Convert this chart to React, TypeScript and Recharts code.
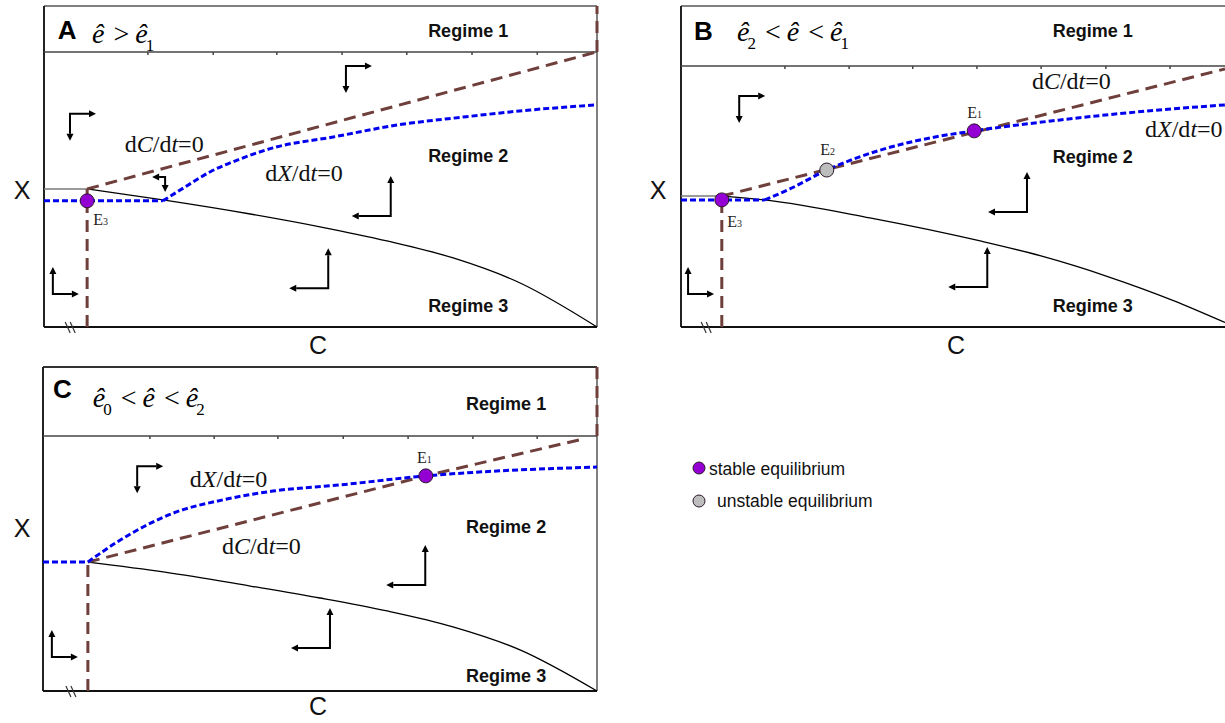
import { ComposedChart, Line, Scatter, XAxis, YAxis, ReferenceLine } from 'recharts'

type Pt = { c: number; x: number }
type Arrow = { c: number; x: number; dir: string }
type Note = { c: number; x: number; text: string }
type MathNote = { c: number; x: number; subs: string[]; ops: string[] }

const SANS = '"Liberation Sans", Arial, sans-serif'
const SERIF = '"Liberation Serif", "Times New Roman", serif'
const BROWN = '#6f3f3c'
const BLUE = '#0000ee'
const PURPLE = '#9400d3'

// ---- panel A: e > e1 ----
const regimeA = 85.7
const ticksA = [18.8, 30.6, 42.1, 53.9, 65.6, 77.4, 89.2]
const blackA: Pt[] = [
  { c: 7.8, x: 43.0 }, { c: 21.5, x: 39.6 }, { c: 37.3, x: 35.2 }, { c: 49.9, x: 31.2 },
  { c: 62.0, x: 26.8 }, { c: 74.0, x: 21.5 }, { c: 86.1, x: 13.7 }, { c: 100, x: 0 },
]
const plateauA: Pt[] = [{ c: 0, x: 43.0 }, { c: 7.8, x: 43.0 }]
const blueFlatA: Pt[] = [{ c: 0, x: 39.3 }, { c: 21.5, x: 39.3 }]
const blueRiseA: Pt[] = [
  { c: 21.5, x: 39.3 }, { c: 25.5, x: 43.6 }, { c: 30.0, x: 48.3 },
  { c: 35.4, x: 52.3 }, { c: 41.4, x: 55.8 }, { c: 52.3, x: 59.2 }, { c: 63.8, x: 62.9 },
  { c: 75.8, x: 65.4 }, { c: 87.9, x: 67.6 }, { c: 100, x: 69.2 },
]
const brownA: Pt[] = [{ c: 7.8, x: 43.0 }, { c: 100, x: 85.7 }]
const dropA: Pt[] = [{ c: 7.8, x: 0 }, { c: 7.8, x: 43.0 }]
const edgeA: Pt[] = [{ c: 100, x: 85.7 }, { c: 100, x: 100 }]
const stableA: Pt[] = [{ c: 7.8, x: 39.3 }]
const smallArrowsA: Arrow[] = [
  { c: 4.7, x: 66.4, dir: 'rd' }, { c: 54.6, x: 81.3, dir: 'rd' }, { c: 1.6, x: 10.3, dir: 'ru' },
]
const tinyArrowsA: Arrow[] = [{ c: 21.9, x: 46.7, dir: 'ld' }]
const largeArrowsA: Arrow[] = [{ c: 62.7, x: 34.6, dir: 'lu' }, { c: 51.4, x: 12.1, dir: 'lu' }]
const regimesA: Note[] = [
  { c: 76.7, x: 90.3, text: 'Regime 1' }, { c: 76.7, x: 51.4, text: 'Regime 2' }, { c: 76.7, x: 4.7, text: 'Regime 3' },
]
const nullA: Note[] = [{ c: 14.6, x: 54.5, text: 'C' }, { c: 40.0, x: 45.5, text: 'X' }]
const eqLabelsA: Note[] = [{ c: 8.9, x: 31.8, text: '3' }]
const letterA: Note = { c: 2.5, x: 89.7, text: 'A' }
const mathA: MathNote = { c: 8.7, x: 88.5, subs: ['', '1'], ops: ['>'] }
const breakA: Pt = { c: 5.1, x: 0 }

// ---- panel B: e2 < e < e1 ----
const regimeB = 81.3
const ticksB = [19.1, 30.9, 42.6, 54.4, 66.2, 78.1, 89.9]
const blackB: Pt[] = [
  { c: 7.5, x: 40.8 }, { c: 15.4, x: 39.6 }, { c: 34.7, x: 34.0 }, { c: 55.0, x: 26.8 },
  { c: 66.0, x: 22.2 }, { c: 78.3, x: 15.8 }, { c: 90.4, x: 8.3 }, { c: 100, x: 1.4 },
]
const plateauB: Pt[] = [{ c: 0, x: 40.8 }, { c: 7.5, x: 40.8 }]
const blueFlatB: Pt[] = [{ c: 0, x: 39.6 }, { c: 15.4, x: 39.6 }]
const blueRiseB: Pt[] = [
  { c: 15.4, x: 39.6 }, { c: 20.0, x: 43.0 }, { c: 26.8, x: 48.9 },
  { c: 36.6, x: 55.1 }, { c: 45.8, x: 58.9 }, { c: 53.9, x: 61.1 }, { c: 69.7, x: 64.5 },
  { c: 82.0, x: 66.7 }, { c: 100, x: 69.2 },
]
const brownB: Pt[] = [{ c: 7.5, x: 40.8 }, { c: 100, x: 80.4 }]
const dropB: Pt[] = [{ c: 7.5, x: 0 }, { c: 7.5, x: 40.8 }]
const stableB: Pt[] = [{ c: 7.5, x: 39.6 }, { c: 53.9, x: 61.1 }]
const unstableB: Pt[] = [{ c: 26.8, x: 48.9 }]
const smallArrowsB: Arrow[] = [{ c: 10.7, x: 72.0, dir: 'rd' }, { c: 1.3, x: 10.3, dir: 'ru' }]
const largeArrowsB: Arrow[] = [{ c: 63.6, x: 35.8, dir: 'lu' }, { c: 56.3, x: 12.5, dir: 'lu' }]
const regimesB: Note[] = [
  { c: 75.7, x: 90.3, text: 'Regime 1' }, { c: 75.7, x: 51.1, text: 'Regime 2' }, { c: 75.7, x: 4.7, text: 'Regime 3' },
]
const nullB: Note[] = [{ c: 64.5, x: 74.1, text: 'C' }, { c: 85.3, x: 59.2, text: 'X' }]
const eqLabelsB: Note[] = [
  { c: 52.6, x: 65.1, text: '1' }, { c: 25.6, x: 53.6, text: '2' }, { c: 8.5, x: 31.2, text: '3' },
]
const letterB: Note = { c: 2.4, x: 89.4, text: 'B' }
const mathB: MathNote = { c: 10.3, x: 89.1, subs: ['2', '', '1'], ops: ['<', '<'] }
const breakB: Pt = { c: 5.0, x: 0 }

// ---- panel C: e0 < e < e2 ----
const regimeC = 78.7
const ticksC = [19.3, 30.9, 42.4, 54.2, 65.9, 77.6, 89.2]
const blackC: Pt[] = [
  { c: 8.1, x: 39.8 }, { c: 22.0, x: 36.7 }, { c: 37.4, x: 32.4 }, { c: 50.0, x: 28.7 },
  { c: 62.1, x: 24.7 }, { c: 74.0, x: 19.8 }, { c: 86.1, x: 12.7 }, { c: 100, x: 0 },
]
const blueFlatC: Pt[] = [{ c: 0, x: 39.8 }, { c: 8.1, x: 39.8 }]
const blueRiseC: Pt[] = [
  { c: 8.1, x: 39.8 }, { c: 13.4, x: 46.0 },
  { c: 23.5, x: 54.9 }, { c: 32.5, x: 59.0 }, { c: 41.5, x: 61.7 }, { c: 53.6, x: 63.6 },
  { c: 69.1, x: 66.4 }, { c: 81.9, x: 67.9 }, { c: 100, x: 69.1 },
]
const brownC: Pt[] = [{ c: 8.1, x: 39.8 }, { c: 69.1, x: 66.4 }, { c: 97.5, x: 77.8 }]
const dropC: Pt[] = [{ c: 8.1, x: 0 }, { c: 8.1, x: 39.8 }]
const edgeC: Pt[] = [{ c: 100, x: 78.7 }, { c: 100, x: 100 }]
const stableC: Pt[] = [{ c: 69.1, x: 66.4 }]
const smallArrowsC: Arrow[] = [{ c: 17.0, x: 69.4, dir: 'rd' }, { c: 1.6, x: 10.5, dir: 'ru' }]
const largeArrowsC: Arrow[] = [{ c: 69.0, x: 32.7, dir: 'lu' }, { c: 51.8, x: 13.3, dir: 'lu' }]
const regimesC: Note[] = [
  { c: 83.6, x: 86.7, text: 'Regime 1' }, { c: 83.6, x: 48.8, text: 'Regime 2' }, { c: 83.6, x: 2.8, text: 'Regime 3' },
]
const nullC: Note[] = [{ c: 26.5, x: 63.0, text: 'X' }, { c: 32.3, x: 42.3, text: 'C' }]
const eqLabelsC: Note[] = [{ c: 67.5, x: 70.4, text: '1' }]
const letterC: Note = { c: 1.8, x: 90.4, text: 'C' }
const mathC: MathNote = { c: 9.0, x: 87.7, subs: ['0', '', '2'], ops: ['<', '<'] }
const breakC: Pt = { c: 5.4, x: 0 }

// ---- shapes ----
const arrowShape = (lh: number, lv: number) => (p: any) => {
  const { cx, cy, payload } = p
  const sx = payload.dir[0] === 'r' ? 1 : -1
  const sy = payload.dir[1] === 'd' ? 1 : -1
  const hx = cx + sx * lh
  const vy = cy + sy * lv
  const head = 7
  const w = 3.5
  return (
    <g>
      <path d={`M${hx - sx * head},${cy} L${cx},${cy} L${cx},${vy - sy * head}`} fill="none" stroke="#000" strokeWidth={2} />
      <path d={`M${hx},${cy} L${hx - sx * head},${cy - w} L${hx - sx * head},${cy + w} Z`} fill="#000" />
      <path d={`M${cx},${vy} L${cx - w},${vy - sy * head} L${cx + w},${vy - sy * head} Z`} fill="#000" />
    </g>
  )
}

const eqShape = (fill: string) => (p: any) => (
  <circle cx={p.cx} cy={p.cy} r={7} fill={fill} stroke="#2a1a2a" strokeWidth={1} />
)

const tickShape = (p: any) => (
  <line x1={p.cx} x2={p.cx} y1={p.cy} y2={p.cy + 3} stroke="#444" strokeWidth={1.5} />
)

const breakShape = (p: any) => (
  <g stroke="#333" strokeWidth={1.2}>
    <line x1={p.cx - 7} y1={p.cy - 5} x2={p.cx - 2} y2={p.cy + 6} />
    <line x1={p.cx - 2} y1={p.cy - 5} x2={p.cx + 3} y2={p.cy + 6} />
  </g>
)

const regimeShape = (p: any) => (
  <text x={p.cx} y={p.cy} textAnchor="middle" fontFamily={SANS} fontWeight="bold" fontSize={18} fill="#111">
    {p.payload.text}
  </text>
)

const nullShape = (p: any) => (
  <text x={p.cx} y={p.cy} fontFamily={SERIF} fontSize={24} fill="#111">
    d<tspan fontStyle="italic">{p.payload.text}</tspan>/d<tspan fontStyle="italic">t</tspan>=0
  </text>
)

const eqLabelShape = (p: any) => (
  <text x={p.cx} y={p.cy} fontFamily={SERIF} fontSize={16} fill="#222">
    E<tspan fontSize={10}>{p.payload.text}</tspan>
  </text>
)

const letterShape = (p: any) => (
  <text x={p.cx} y={p.cy} fontFamily={SANS} fontWeight="bold" fontSize={26} fill="#000">
    {p.payload.text}
  </text>
)

const mathShape = (p: any) => {
  const { subs, ops } = p.payload as MathNote
  const parts: any[] = []
  let lowered = false
  subs.forEach((s, i) => {
    parts.push(
      <tspan key={`e${i}`} fontStyle="italic" fontSize={28} dx={i === 0 ? 0 : 6}>ê</tspan>,
    )
    if (s) {
      parts.push(<tspan key={`s${i}`} fontSize={17} dx={-2} dy={8}>{s}</tspan>)
      lowered = true
    }
    if (i < ops.length) {
      parts.push(
        <tspan key={`o${i}`} fontSize={28} dx={9} dy={lowered ? -8 : 0}>{ops[i]}</tspan>,
      )
      lowered = false
    }
  })
  return (
    <text x={p.cx} y={p.cy} fontFamily={SERIF} fill="#000">
      {parts}
    </text>
  )
}

type PanelProps = {
  left: number
  top: number
  width: number
  height: number
  margin: { top: number; right: number; bottom: number; left: number }
  frameTop: string
  frameRight?: string
  regime: number
  ticks: number[]
  black: Pt[]
  plateau?: Pt[]
  blueFlat: Pt[]
  blueRise: Pt[]
  brown: Pt[]
  drop: Pt[]
  edge?: Pt[]
  stable: Pt[]
  unstable?: Pt[]
  small: Arrow[]
  large: Arrow[]
  tiny?: Arrow[]
  regimes: Note[]
  nulls: Note[]
  eqLabels: Note[]
  letter: Note
  math: MathNote
  brk: Pt
}

function Panel(props: PanelProps) {
  const tickPts = props.ticks.map((c) => ({ c, x: props.regime }))
  return (
    <div style={{ position: 'absolute', left: props.left, top: props.top }}>
      <ComposedChart width={props.width} height={props.height} margin={props.margin}>
        <XAxis type="number" dataKey="c" domain={[0, 100]} hide />
        <YAxis type="number" dataKey="x" domain={[0, 100]} hide />
        <ReferenceLine y={100} stroke={props.frameTop} strokeWidth={2} />
        <ReferenceLine x={0} stroke="#222" strokeWidth={2} />
        <ReferenceLine y={0} stroke="#111" strokeWidth={2} />
        {props.frameRight && <ReferenceLine x={100} stroke={props.frameRight} strokeWidth={2} />}
        <ReferenceLine y={props.regime} stroke="#444" strokeWidth={1.5} />
        <Scatter data={tickPts} shape={tickShape} isAnimationActive={false} />
        <Line data={props.black} dataKey="x" type="monotone" stroke="#000" strokeWidth={1.3} dot={false} isAnimationActive={false} />
        {props.plateau && (
          <Line data={props.plateau} dataKey="x" type="linear" stroke="#7a7a7a" strokeWidth={1.5} dot={false} isAnimationActive={false} />
        )}
        <Line data={props.drop} dataKey="x" type="linear" stroke={BROWN} strokeWidth={3} strokeDasharray="12 7" dot={false} isAnimationActive={false} />
        {props.edge && (
          <Line data={props.edge} dataKey="x" type="linear" stroke={BROWN} strokeWidth={3} strokeDasharray="12 7" dot={false} isAnimationActive={false} />
        )}
        <Line data={props.brown} dataKey="x" type="linear" stroke={BROWN} strokeWidth={3} strokeDasharray="12 7" dot={false} isAnimationActive={false} />
        <Line data={props.blueFlat} dataKey="x" type="linear" stroke={BLUE} strokeWidth={3} strokeDasharray="6 3" dot={false} isAnimationActive={false} />
        <Line data={props.blueRise} dataKey="x" type="monotone" stroke={BLUE} strokeWidth={3} strokeDasharray="6 3" dot={false} isAnimationActive={false} />
        <Scatter data={props.stable} shape={eqShape(PURPLE)} isAnimationActive={false} />
        {props.unstable && <Scatter data={props.unstable} shape={eqShape('#bdbdbd')} isAnimationActive={false} />}
        <Scatter data={props.small} shape={arrowShape(26, 27)} isAnimationActive={false} />
        <Scatter data={props.large} shape={arrowShape(39, 40)} isAnimationActive={false} />
        {props.tiny && <Scatter data={props.tiny} shape={arrowShape(13, 15)} isAnimationActive={false} />}
        <Scatter data={[props.brk]} shape={breakShape} isAnimationActive={false} />
        <Scatter data={props.regimes} shape={regimeShape} isAnimationActive={false} />
        <Scatter data={props.nulls} shape={nullShape} isAnimationActive={false} />
        <Scatter data={props.eqLabels} shape={eqLabelShape} isAnimationActive={false} />
        <Scatter data={[props.letter]} shape={letterShape} isAnimationActive={false} />
        <Scatter data={[props.math]} shape={mathShape} isAnimationActive={false} />
      </ComposedChart>
    </div>
  )
}

const axisText = { fontFamily: SANS, fontSize: 25, fill: '#111', textAnchor: 'middle' as const }

export default function App() {
  return (
    <div style={{ position: 'absolute', left: 0, top: 0, width: 1225, height: 723, overflow: 'hidden', background: '#fff' }}>
      <Panel
        left={0} top={0} width={620} height={360}
        margin={{ top: 6, right: 23, bottom: 33, left: 44 }}
        frameTop="#808080" frameRight="#808080"
        regime={regimeA} ticks={ticksA}
        black={blackA} plateau={plateauA} blueFlat={blueFlatA} blueRise={blueRiseA}
        brown={brownA} drop={dropA} edge={edgeA}
        stable={stableA}
        small={smallArrowsA} large={largeArrowsA} tiny={tinyArrowsA}
        regimes={regimesA} nulls={nullA} eqLabels={eqLabelsA}
        letter={letterA} math={mathA} brk={breakA}
      />
      <Panel
        left={640} top={0} width={600} height={360}
        margin={{ top: 6, right: 15, bottom: 33, left: 41 }}
        frameTop="#808080"
        regime={regimeB} ticks={ticksB}
        black={blackB} plateau={plateauB} blueFlat={blueFlatB} blueRise={blueRiseB}
        brown={brownB} drop={dropB}
        stable={stableB} unstable={unstableB}
        small={smallArrowsB} large={largeArrowsB}
        regimes={regimesB} nulls={nullB} eqLabels={eqLabelsB}
        letter={letterB} math={mathB} brk={breakB}
      />
      <Panel
        left={0} top={360} width={620} height={360}
        margin={{ top: 7, right: 23, bottom: 29, left: 43 }}
        frameTop="#333" frameRight="#808080"
        regime={regimeC} ticks={ticksC}
        black={blackC} blueFlat={blueFlatC} blueRise={blueRiseC}
        brown={brownC} drop={dropC} edge={edgeC}
        stable={stableC}
        small={smallArrowsC} large={largeArrowsC}
        regimes={regimesC} nulls={nullC} eqLabels={eqLabelsC}
        letter={letterC} math={mathC} brk={breakC}
      />
      <svg width={1225} height={723} style={{ position: 'absolute', left: 0, top: 0, pointerEvents: 'none' }}>
        <text x={22} y={199} {...axisText}>X</text>
        <text x={318} y={354} {...axisText}>C</text>
        <text x={658} y={199} {...axisText}>X</text>
        <text x={956} y={354} {...axisText}>C</text>
        <text x={22} y={537} {...axisText}>X</text>
        <text x={318} y={715} {...axisText}>C</text>
        <circle cx={699} cy={468} r={6} fill={PURPLE} stroke="#2a1a2a" strokeWidth={1} />
        <text x={709} y={475} fontFamily={SANS} fontSize={17.5} fill="#111">stable equilibrium</text>
        <circle cx={699} cy={501} r={6} fill="#bdbdbd" stroke="#2a1a2a" strokeWidth={1} />
        <text x={717} y={507} fontFamily={SANS} fontSize={17.5} fill="#111">unstable equilibrium</text>
      </svg>
    </div>
  )
}
